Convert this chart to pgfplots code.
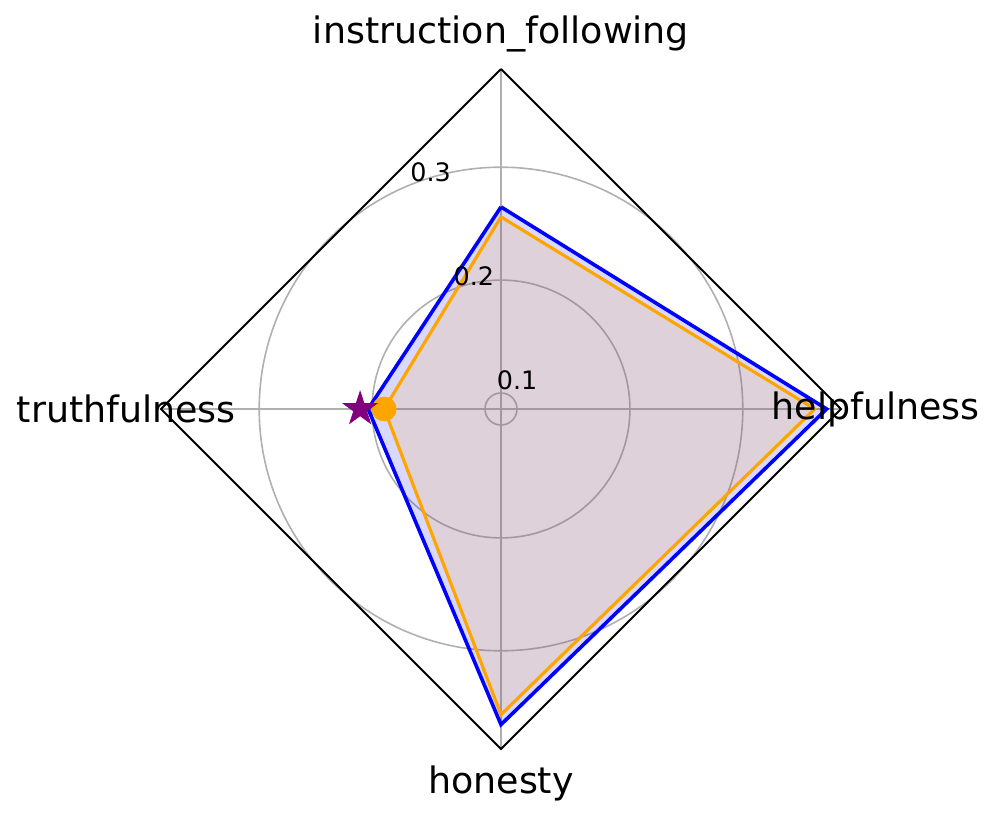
\documentclass[border=0pt]{standalone}
\usepackage{fontspec}
\setmainfont{DejaVu Sans}
\usepackage{pgfplots}
\pgfplotsset{compat=1.18}
\usepgfplotslibrary{polar}
\definecolor{mplblue}{RGB}{0,0,255}
\definecolor{mplorange}{RGB}{255,165,0}
\definecolor{mplpurple}{RGB}{128,0,128}
\definecolor{gridgray}{RGB}{176,176,176}
\pgfdeclareplotmark{fstar}{%
  \pgfpathmoveto{\pgfpointpolar{90}{\pgfplotmarksize}}%
  \pgfpathlineto{\pgfpointpolar{126}{0.382\pgfplotmarksize}}%
  \pgfpathlineto{\pgfpointpolar{162}{\pgfplotmarksize}}%
  \pgfpathlineto{\pgfpointpolar{198}{0.382\pgfplotmarksize}}%
  \pgfpathlineto{\pgfpointpolar{234}{\pgfplotmarksize}}%
  \pgfpathlineto{\pgfpointpolar{270}{0.382\pgfplotmarksize}}%
  \pgfpathlineto{\pgfpointpolar{306}{\pgfplotmarksize}}%
  \pgfpathlineto{\pgfpointpolar{342}{0.382\pgfplotmarksize}}%
  \pgfpathlineto{\pgfpointpolar{18}{\pgfplotmarksize}}%
  \pgfpathlineto{\pgfpointpolar{54}{0.382\pgfplotmarksize}}%
  \pgfpathclose
  \pgfusepathqfillstroke}
\begin{document}
\begin{tikzpicture}
\useasboundingbox (0,0) rectangle (499pt,409.5pt);
\begin{polaraxis}[
  at={(250.5pt,205pt)}, anchor=center,
  scale only axis, width=340pt, height=340pt,
  xmin=0, xmax=360, ymin=0.0858, ymax=0.387,
  y coord trafo/.code={\pgfmathparse{#1-0.0858}},
  y coord inv trafo/.code={\pgfmathparse{#1+0.0858}},
  xtick={0,90,180,270}, ytick={0.1,0.2,0.3},
  xticklabels={}, yticklabels={},
  major tick length=0pt,
  grid=major,
  major grid style={draw=gridgray, line width=0.8pt},
  axis line style={draw=none},
  clip=false,
]
% frame
\addplot[black, line width=1pt] coordinates {(90,0.387) (0,0.387) (270,0.387) (180,0.387) (90,0.387)};
% blue series
\addplot[draw=mplblue, line width=1.8pt, fill=mplblue, fill opacity=0.15, draw opacity=1, line join=miter]
  coordinates {(90,0.2648) (0,0.3743) (270,0.3654) (180,0.2035) (90,0.2648)};
% orange series
\addplot[draw=mplorange, line width=1.6pt, fill=mplorange, fill opacity=0.15, draw opacity=1, line join=miter]
  coordinates {(90,0.2560) (0,0.3637) (270,0.3566) (180,0.1893) (90,0.2560)};
\addplot[only marks, mark=*, mark size=6pt, color=mplorange] coordinates {(180,0.1893)};
\addplot[only marks, mark=fstar, mark size=8.8pt, color=mplpurple] coordinates {(180,0.2106)};
% radial tick labels
\begin{scope}[every node/.style={font=\fontsize{12.7}{15}\selectfont, anchor=base west, inner sep=0pt, xshift=0.8pt, yshift=2.3pt}]
\node at (axis cs:112.5,0.1) {0.1};
\node at (axis cs:112.5,0.2) {0.2};
\node at (axis cs:112.5,0.3) {0.3};
\end{scope}
% category labels
\begin{scope}[every node/.style={font=\fontsize{18.2}{22}\selectfont, anchor=center, inner sep=0pt}]
\node at (axis cs:90,0.4177) {instruction\_following};
\node at (axis cs:0,0.4177) {helpfulness};
\node at (axis cs:270,0.4177) {honesty};
\node at (axis cs:180,0.4177) {truthfulness};
\end{scope}
\end{polaraxis}
\end{tikzpicture}
\end{document}
